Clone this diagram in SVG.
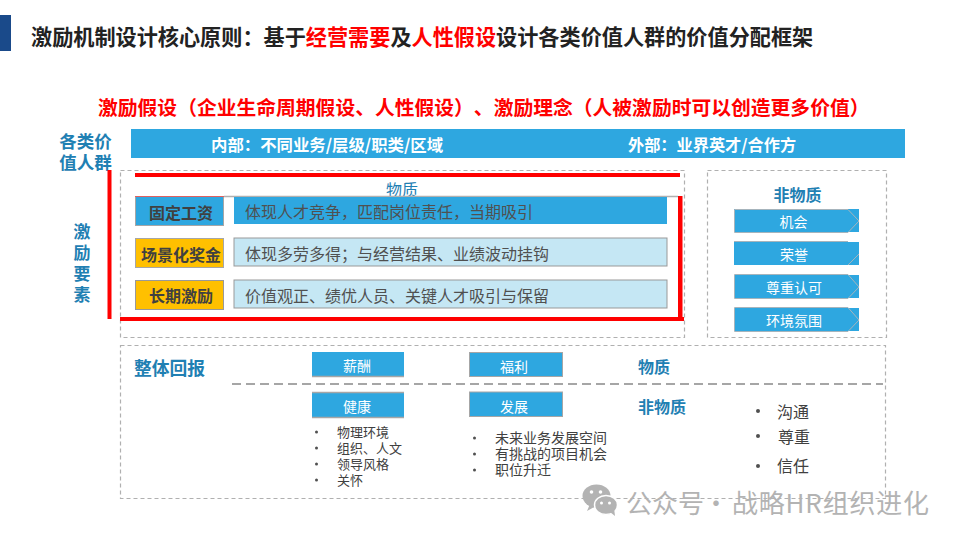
<svg xmlns="http://www.w3.org/2000/svg" width="960" height="540" viewBox="0 0 960 540">
<style>
text{font-family:"Noto Sans CJK SC","Liberation Sans",sans-serif;dominant-baseline:central;text-spacing-trim:space-all}
.m{text-anchor:middle}
.b{font-weight:700}
.h{fill:#1f80b3;font-weight:700}
.dash{fill:none;stroke:#b0b0b0;stroke-width:1.2;stroke-dasharray:4 3}
.red{fill:#ff0000}
.blue{fill:#2ea7e0}
.lbl{font-size:16px;font-weight:700;fill:#404040;text-anchor:middle}
.desc{font-size:16px;fill:#505050}
.w{font-size:14px;fill:#fff;text-anchor:middle}
.g{fill:none;stroke:#a6a6a6;stroke-width:1.5}
.li{font-size:13px;fill:#404040}
.li14{font-size:14px;fill:#404040}
.li2{font-size:16px;fill:#404040}
.dot{fill:#505050}
.chev{fill:none;stroke:#a6b4bc}
</style>
<rect width="960" height="540" fill="#fff"/>
<rect id="title-bar" x="0" y="15" width="11" height="36" fill="#1a4a8a"/>
<text id="title" x="31" y="35" class="b" font-size="21.150" fill="#222">激励机制设计核心原则：基于<tspan fill="#ff0000">经营需要</tspan>及<tspan fill="#ff0000">人性假设</tspan>设计各类价值人群的价值分配框架</text>
<text id="subtitle" x="98" y="106" class="b" font-size="19.800" fill="#ff0000">激励假设（企业生命周期假设、人性假设）、激励理念（人被激励时可以创造更多价值）</text>

<g id="audience">
<rect class="blue" x="131" y="129" width="774" height="29"/>
<text x="211" y="144" font-size="16.400" class="b" fill="#fff">内部：不同业务/层级/职类/区域</text>
<text x="628" y="144" font-size="16.200" class="b" fill="#fff">外部：业界英才/合作方</text>
<text class="h m" font-size="17.500"><tspan x="85.500" y="140">各类价</tspan><tspan x="85.500" y="161">值人群</tspan></text>
</g>

<g id="elements-label">
<rect class="red" x="107.500" y="170" width="4" height="149"/>
<text class="h m" font-size="17"><tspan x="82" y="230">激</tspan><tspan x="82" y="251">励</tspan><tspan x="82" y="272">要</tspan><tspan x="82" y="293">素</tspan></text>
</g>

<g id="material">
<rect class="dash" x="120.500" y="170.500" width="564" height="167"/>
<text x="402" y="189" class="m" font-size="16" fill="#1f80b3">物质</text>
</g>

<g id="fixed-pay">
<rect class="blue" x="135.500" y="196.500" width="88" height="29" stroke="#a6a6a6"/>
<path d="M135 196.500H224" stroke="#e06060" fill="none"/>
<path d="M224 196.500H678" stroke="#b0b0b0" stroke-width="1.500" fill="none"/>
<text class="lbl" x="181" y="212">固定工资</text>
<rect class="blue" x="234" y="197" width="433" height="27"/>
<text class="desc" x="245" y="211">体现人才竞争，匹配岗位责任，当期吸引</text>
</g>
<g id="scenario-bonus">
<rect x="135.500" y="238.500" width="88" height="29" fill="#ffc000" stroke="#a6a6a6"/>
<text class="lbl" x="181" y="254">场景化奖金</text>
<rect x="234" y="238" width="433" height="28" fill="#c5e7f4" stroke="#999"/>
<text class="desc" x="245" y="253">体现多劳多得；与经营结果、业绩波动挂钩</text>
</g>
<g id="long-term">
<rect x="135.500" y="280.500" width="88" height="29" fill="#ffc000" stroke="#999"/>
<text class="lbl" x="181" y="295">长期激励</text>
<rect x="234" y="280" width="433" height="28" fill="#c5e7f4" stroke="#999"/>
<text class="desc" x="245" y="295">价值观正、绩优人员、关键人才吸引与保留</text>
</g>
<g id="red-frame">
<rect class="red" x="135" y="173" width="545" height="4"/>
<rect class="red" x="678" y="196" width="4.500" height="125"/>
<rect class="red" x="120" y="317" width="564" height="4"/>
</g>

<g id="nonmaterial">
<rect class="dash" x="707.500" y="170.500" width="179" height="167"/>
<text class="h m" x="797.500" y="194" font-size="16">非物质</text>
</g>
<g id="opportunity">
<rect class="blue" x="734" y="209" width="125" height="23"/>
<path d="M848 232.500H734.500V209.500H848L859 221L848 232.500" class="chev"/>
<text class="w" x="793.500" y="220.500">机会</text>
</g>
<g id="honor">
<rect class="blue" x="734" y="242" width="125" height="23"/>
<path d="M734 241.500H848M848 265L859 254" class="chev"/>
<text class="w" x="794" y="253.500">荣誉</text>
</g>
<g id="respect">
<rect class="blue" x="734" y="275" width="125" height="23"/>
<path d="M848 298.500H734.500V274.500H848L859 287L848 298.500" class="chev"/>
<text class="w" x="794" y="286.500">尊重认可</text>
</g>
<g id="climate">
<rect class="blue" x="734" y="308" width="125" height="23"/>
<path d="M848 331.500H734.500V307.500H848L859 320L848 331.500" class="chev"/>
<text class="w" x="794" y="319.500">环境氛围</text>
</g>

<g id="total-rewards">
<rect class="dash" x="120.500" y="345.500" width="765" height="153"/>
<text class="h" x="134" y="367" font-size="17.800">整体回报</text>
<path d="M232 384H883" stroke="#a6a6a6" stroke-width="2" stroke-dasharray="9 5" fill="none"/>
<text class="h" x="638" y="365.500" font-size="16">物质</text>
<text class="h" x="638" y="406" font-size="16">非物质</text>
</g>
<g id="salary">
<rect class="blue" x="312" y="352" width="92" height="24"/>
<path d="M312 376.500H404" class="g"/>
<text class="w" x="357" y="365">薪酬</text>
</g>
<g id="benefit">
<rect class="blue" x="469.500" y="352.500" width="93" height="24" stroke="#a6a6a6"/>
<text class="w" x="514" y="365.500">福利</text>
</g>
<g id="health">
<rect class="blue" x="312" y="392" width="92" height="25"/>
<path d="M312 392.500H404M312 417.500H404" class="g"/>
<text class="w" x="357" y="405.500">健康</text>
</g>
<g id="development">
<rect class="blue" x="469.500" y="392" width="93" height="24.500" stroke="#a6a6a6"/>
<text class="w" x="514" y="405.500">发展</text>
</g>

<g id="health-list">
<circle class="dot" cx="316.500" cy="432" r="1.500"/>
<circle class="dot" cx="316.500" cy="448" r="1.500"/>
<circle class="dot" cx="316.500" cy="464" r="1.500"/>
<circle class="dot" cx="316.500" cy="480" r="1.500"/>
<text class="li"><tspan x="337" y="431">物理环境</tspan><tspan x="337" y="447">组织、人文</tspan><tspan x="337" y="463">领导风格</tspan><tspan x="337" y="479">关怀</tspan></text>
</g>
<g id="development-list">
<circle class="dot" cx="474.500" cy="438" r="1.500"/>
<circle class="dot" cx="474.500" cy="454" r="1.500"/>
<circle class="dot" cx="474.500" cy="470" r="1.500"/>
<text class="li14"><tspan x="495" y="437">未来业务发展空间</tspan><tspan x="495" y="453">有挑战的项目机会</tspan><tspan x="495" y="469">职位升迁</tspan></text>
</g>
<g id="nonmaterial-list">
<circle class="dot" cx="758" cy="411" r="2"/><text class="li2" x="777" y="411">沟通</text>
<circle class="dot" cx="758" cy="436" r="2"/><text class="li2" x="778" y="436">尊重</text>
<circle class="dot" cx="758" cy="466" r="2"/><text class="li2" x="777" y="465">信任</text>
</g>

<g id="watermark">
<ellipse cx="596.500" cy="496" rx="14" ry="11.500" fill="#b3b3b3"/>
<path d="M590 504L587 511L596 506Z" fill="#b3b3b3"/>
<ellipse cx="606" cy="505" rx="11.500" ry="9.500" fill="#b3b3b3" stroke="#fff" stroke-width="1.500"/>
<path d="M610 512L615 516L614 508Z" fill="#b3b3b3"/>
<circle cx="591.500" cy="492" r="1.800" fill="#fff"/><circle cx="600.500" cy="492" r="1.800" fill="#fff"/>
<circle cx="601.500" cy="503" r="1.500" fill="#fff"/><circle cx="609.500" cy="503" r="1.500" fill="#fff"/>
<text y="501" font-size="26" fill="#b3b3b3"><tspan x="626">公众号</tspan><tspan x="703">·</tspan><tspan x="732" letter-spacing="0.800">战略HR组织进化</tspan></text>
</g>
</svg>
